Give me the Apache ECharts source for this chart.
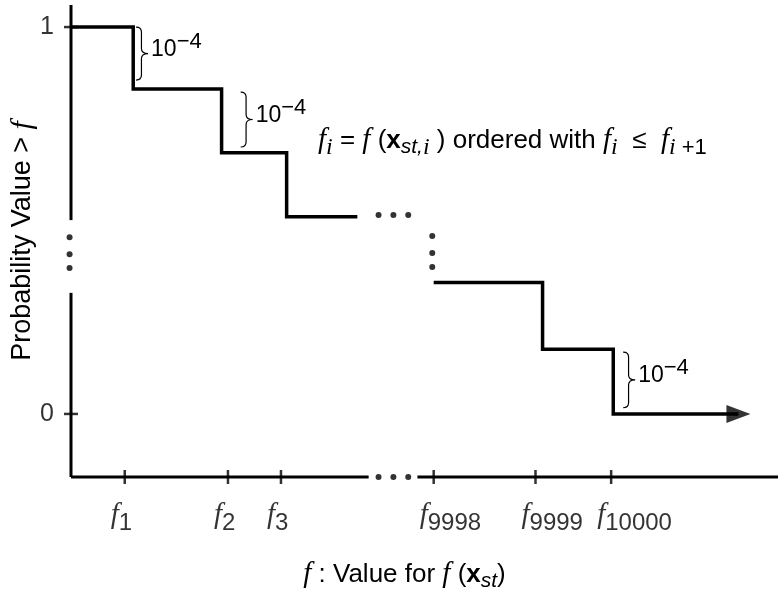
<!DOCTYPE html>
<html>
<head>
<meta charset="utf-8">
<script src="https://cdn.jsdelivr.net/npm/echarts@6/dist/echarts.min.js"></script>
<style>
html,body{margin:0;padding:0;background:#fff;}
#chart{width:778px;height:597px;}
</style>
</head>
<body>
<div id="chart"></div>
<script>
// ---- data (schematic units: x 0..100, probability on y) ----
var leftStepX = [0, 8.8, 21.3, 30.5, 40.5];
var leftStepY = [1, 0.84, 0.675, 0.51, 0.51];
var rightStepX = [51.3, 66.7, 76.7, 94.4];
var rightStepY = [0.34, 0.167, 0, 0];
var xTickPos = [7.6, 22.2, 29.7, 51.3, 65.7, 76.4];
var xTickLabels = ['1', '2', '3', '9998', '9999', '10000'];
var yTickPos = [0, 1];
var yTickLabels = ['0', '1'];
var xAxisLevel = -0.163;
var yAxisTop = 1.057;
var yAxisSegments = [[yAxisTop, 0.501], [0.313, xAxisLevel]];
var xAxisSegments = [[0, 42.1], [49.0, 100]];
var yAxisDotsY = [0.457, 0.413, 0.377];
var midDotsX = [43.5, 45.6, 47.7];
var midDotsLevel = 0.514;
var gapDotsX = 51.1;
var gapDotsY = [0.46, 0.416, 0.38];
var braceX = [9.2, 24.0, 78.1];
var braceTop = [1.0, 0.832, 0.16];
var braceBottom = [0.863, 0.69, 0.016];
var braceLabel = ['10', '\u22124'];

var SANS = 'Liberation Sans', SERIF = 'Liberation Serif';
var K = '#000';
function rs(o) { o.color = K; o.fill = K; o.verticalAlign = 'middle'; return o; }
var richMain = {
  f: rs({fontFamily: SERIF, fontStyle: 'italic', fontSize: 29}),
  t: rs({fontFamily: SANS, fontSize: 26}),
  b: rs({fontFamily: SANS, fontWeight: 'bold', fontSize: 26}),
  s: rs({fontFamily: SANS, fontStyle: 'italic', fontSize: 21, padding: [14, 0, 0, 0]}),
  si: rs({fontFamily: SERIF, fontStyle: 'italic', fontSize: 24, padding: [14, 0, 0, 0]}),
  sp: rs({fontFamily: SANS, fontSize: 22, padding: [14, 0, 0, 0]})
};
var richYName = {
  f: rs({fontFamily: SERIF, fontStyle: 'italic', fontSize: 30}),
  t: rs({fontFamily: SANS, fontSize: 27})
};
var richTick = {
  f: rs({fontFamily: SERIF, fontStyle: 'italic', fontSize: 29}),
  n: rs({fontFamily: SANS, fontSize: 24, padding: [16, 0, 0, 0]})
};
var richPow = {
  a: rs({fontFamily: SANS, fontSize: 23}),
  e: rs({fontFamily: SANS, fontSize: 22, padding: [0, 0, 16, 0]})
};

function zip(xs, ys) { return xs.map(function (x, i) { return [x, ys[i]]; }); }

var lineBase = {type: 'line', symbol: 'none', clip: false, silent: true, animation: false};
var series = [];
yAxisSegments.forEach(function (s) {
  series.push(Object.assign({}, lineBase, {data: [[0, s[0]], [0, s[1]]], lineStyle: {color: K, width: 3, cap: 'butt'}}));
});
xAxisSegments.forEach(function (s) {
  series.push(Object.assign({}, lineBase, {data: [[s[0], xAxisLevel], [s[1], xAxisLevel]], lineStyle: {color: K, width: 3, cap: 'butt'}}));
});
series.push(Object.assign({}, lineBase, {step: 'end', data: zip(leftStepX, leftStepY), lineStyle: {color: K, width: 3.5, join: 'miter', cap: 'butt'}}));
series.push(Object.assign({}, lineBase, {step: 'end', data: zip(rightStepX, rightStepY), lineStyle: {color: K, width: 3.5, join: 'miter', cap: 'butt'}}));
series.push({type: 'scatter', clip: false, silent: true, animation: false, symbol: 'triangle', symbolSize: [18, 24], symbolRotate: -90,
  itemStyle: {color: K}, data: [[rightStepX[rightStepX.length - 1], rightStepY[rightStepY.length - 1]]]});
var dots = [];
yAxisDotsY.forEach(function (y) { dots.push([-0.2, y]); });
midDotsX.forEach(function (x) { dots.push([x, midDotsLevel]); dots.push([x, xAxisLevel]); });
gapDotsY.forEach(function (y) { dots.push([gapDotsX, y]); });
series.push({type: 'scatter', clip: false, silent: true, animation: false, symbol: 'circle', symbolSize: 6,
  itemStyle: {color: K}, data: dots, z: 5});
series.push({type: 'scatter', clip: false, silent: true, animation: false, symbol: 'rect', symbolSize: [2.5, 14],
  itemStyle: {color: K},
  data: xTickPos.map(function (x) { return [x, xAxisLevel]; }),
  label: {show: true, position: 'bottom', distance: 11, align: 'left', offset: [-14, 0], color: K,
    formatter: function (p) { return '{f|f}{n|' + xTickLabels[p.dataIndex] + '}'; }, rich: richTick}});
series.push({type: 'scatter', clip: false, silent: true, animation: false, symbol: 'rect', symbolSize: [14, 2.5],
  itemStyle: {color: K},
  data: yTickPos.map(function (y) { return [0, y]; }),
  label: {show: true, position: 'left', distance: 10,
    formatter: function (p) { return yTickLabels[p.dataIndex]; },
    fontFamily: SANS, fontSize: 25, color: K}});
series.push({type: 'custom', clip: false, silent: true, animation: false,
  data: braceX.map(function (x, i) { return [x, braceTop[i], braceBottom[i]]; }),
  renderItem: function (params, api) {
    var p1 = api.coord([api.value(0), api.value(1)]);
    var p2 = api.coord([api.value(0), api.value(2)]);
    var x0 = p1[0], yT = p1[1], yB = p2[1], ym = (yT + yB) / 2;
    var w = 12, r = 5, xm = x0 + w * 0.45, xt = x0 + w;
    var d = 'M' + x0 + ' ' + yT + ' Q' + xm + ' ' + yT + ' ' + xm + ' ' + (yT + r) +
      ' L' + xm + ' ' + (ym - r) + ' Q' + xm + ' ' + ym + ' ' + xt + ' ' + ym +
      ' Q' + xm + ' ' + ym + ' ' + xm + ' ' + (ym + r) +
      ' L' + xm + ' ' + (yB - r) + ' Q' + xm + ' ' + yB + ' ' + x0 + ' ' + yB;
    return {type: 'group', children: [
      {type: 'path', shape: {pathData: d}, style: {stroke: K, lineWidth: 1.2, fill: null}},
      {type: 'text', x: xt + 3, y: ym - 4, style: {text: '{a|' + braceLabel[0] + '}{e|' + braceLabel[1] + '}', rich: richPow, fill: K, align: 'left', verticalAlign: 'middle'}}
    ]};
  }});

var chart = echarts.init(document.getElementById('chart'), null, {renderer: 'canvas'});
chart.setOption({
  animation: false,
  backgroundColor: '#fff',
  textStyle: {color: K},
  grid: {left: 70, right: 0, top: 5, bottom: 120, containLabel: false},
  xAxis: {type: 'value', min: 0, max: 100,
    axisLine: {show: false}, axisTick: {show: false}, axisLabel: {show: false}, splitLine: {show: false},
    name: '{f|f}{t| : Value for }{f|f}{t| (}{b|x}{s|st}{t|)}', nameLocation: 'middle', nameGap: 80,
    nameTextStyle: {color: K, rich: richMain, padding: [0, 40, 0, 0]}},
  yAxis: {type: 'value', min: xAxisLevel, max: yAxisTop,
    axisLine: {show: false}, axisTick: {show: false}, axisLabel: {show: false}, splitLine: {show: false},
    name: '{t|Probability Value > }{f|f}', nameLocation: 'middle', nameGap: 33, nameRotate: 90,
    nameTextStyle: {color: K, rich: richYName}},
  graphic: [{type: 'text', left: 318, top: 126, silent: true,
    style: {fill: K, text: '{f|f}{si|i}{t| = }{f|f}{t| (}{b|x}{s|st,}{si|i}{t| ) ordered with }{f|f}{si|i}{t|  \u2264  }{f|f}{si|i}{sp| +1}',
      rich: richMain}}],
  series: series
});
</script>
</body>
</html>
